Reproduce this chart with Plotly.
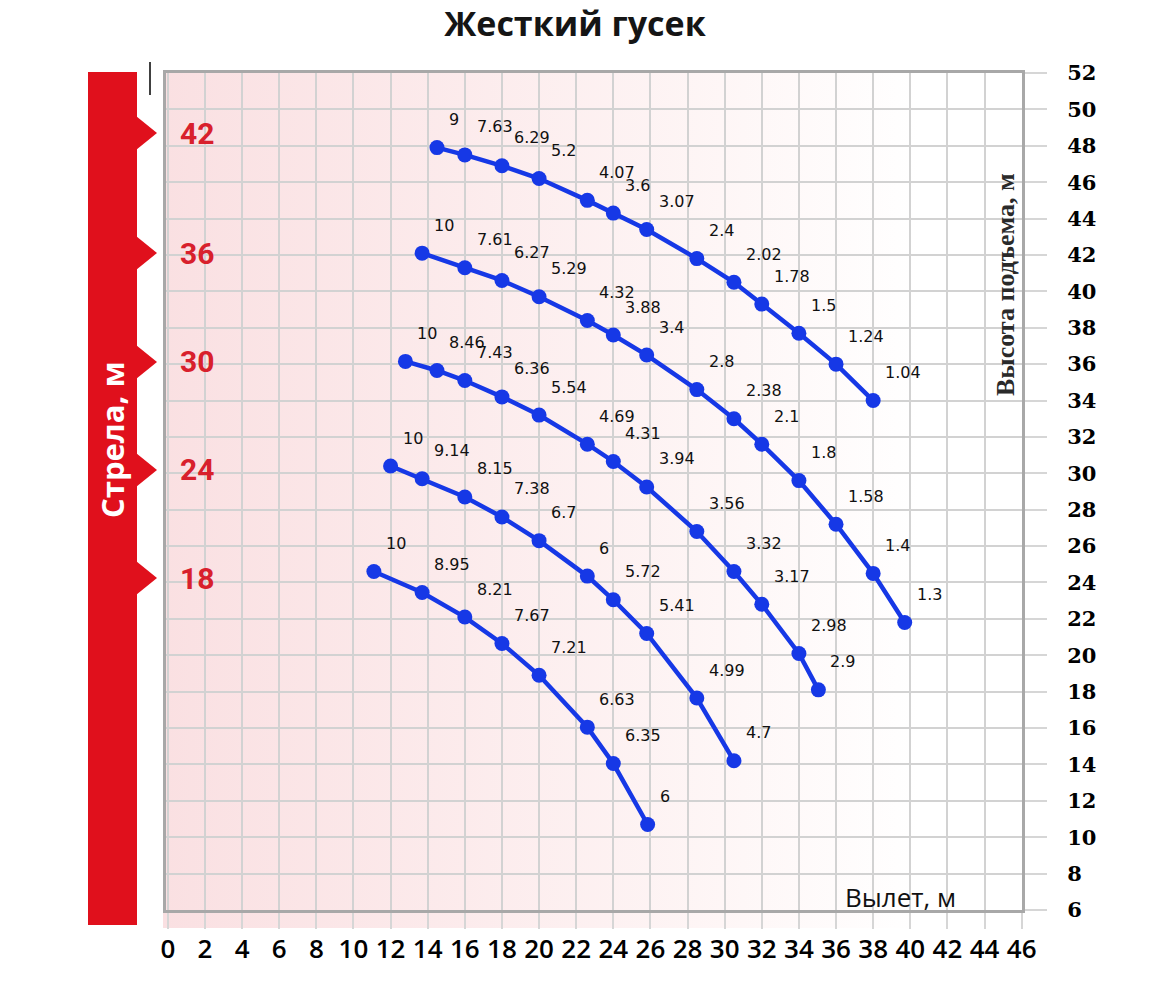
import base64
import plotly.graph_objects as go

# ---------------- data ----------------
TITLE = "Жесткий гусек"
BOOM_LENGTHS = [42, 36, 30, 24, 18]

x_42 = [14.5, 16, 18, 20, 22.6, 24, 25.8, 28.5, 30.5, 32, 34, 36, 38]
y_42 = [47.9, 47.5, 46.9, 46.2, 45.0, 44.3, 43.4, 41.8, 40.5, 39.3, 37.7, 36.0, 34.0]
q_42 = ["9", "7.63", "6.29", "5.2", "4.07", "3.6", "3.07", "2.4", "2.02", "1.78", "1.5", "1.24", "1.04"]

x_36 = [13.7, 16, 18, 20, 22.6, 24, 25.8, 28.5, 30.5, 32, 34, 36, 38, 39.7]
y_36 = [42.1, 41.3, 40.6, 39.7, 38.4, 37.6, 36.5, 34.6, 33.0, 31.6, 29.6, 27.2, 24.5, 21.8]
q_36 = ["10", "7.61", "6.27", "5.29", "4.32", "3.88", "3.4", "2.8", "2.38", "2.1", "1.8", "1.58", "1.4", "1.3"]

x_30 = [12.8, 14.5, 16, 18, 20, 22.6, 24, 25.8, 28.5, 30.5, 32, 34, 35.05]
y_30 = [36.15, 35.65, 35.1, 34.2, 33.2, 31.6, 30.65, 29.25, 26.8, 24.6, 22.8, 20.1, 18.1]
q_30 = ["10", "8.46", "7.43", "6.36", "5.54", "4.69", "4.31", "3.94", "3.56", "3.32", "3.17", "2.98", "2.9"]

x_24 = [12.0, 13.7, 16, 18, 20, 22.6, 24, 25.8, 28.5, 30.5]
y_24 = [30.4, 29.7, 28.7, 27.6, 26.3, 24.35, 23.05, 21.2, 17.65, 14.2]
q_24 = ["10", "9.14", "8.15", "7.38", "6.7", "6", "5.72", "5.41", "4.99", "4.7"]

x_18 = [11.1, 13.7, 16, 18, 20, 22.6, 24, 25.85]
y_18 = [24.6, 23.45, 22.1, 20.65, 18.9, 16.05, 14.05, 10.7]
q_18 = ["10", "8.95", "8.21", "7.67", "7.21", "6.63", "6.35", "6"]

x_ticks = list(range(0, 47, 2))
y_ticks = list(range(6, 53, 2))

X_TITLE = "Вылет, м"
Y_TITLE = "Высота подъема, м"
BAND_TITLE = "Стрела, м"

series = [(x_42, y_42, q_42), (x_36, y_36, q_36), (x_30, y_30, q_30),
          (x_24, y_24, q_24), (x_18, y_18, q_18)]

# ---------------- layout helpers ----------------
W, H = 1167, 983
L, R, T, B = 166, 1022, 73, 910


def px(x):
    return (x - L) / (R - L)


def py(y):
    return (B - y) / (B - T)


BLUE = "#1638e6"
RED = "#e0101c"

fig = go.Figure()
annotations = []
for xs, ys, qs in series:
    fig.add_trace(go.Scatter(
        x=xs, y=ys, mode="lines+markers",
        line=dict(color=BLUE, width=4.5),
        marker=dict(color=BLUE, size=15),
        hoverinfo="skip", showlegend=False))
    for xv, yv, q in zip(xs, ys, qs):
        annotations.append(dict(
            x=xv, y=yv, xref="x", yref="y", text=q, showarrow=False,
            xanchor="left", yanchor="middle", xshift=10, yshift=28,
            font=dict(family="DejaVu Sans", size=16, color="#111111")))

# background gradient as an svg image
svg = ('<svg xmlns="http://www.w3.org/2000/svg" width="860" height="860" '
       'preserveAspectRatio="none"><defs><linearGradient id="g" x1="0" y1="0" x2="1" y2="0">'
       '<stop offset="0" stop-color="#fae0e2"/><stop offset="0.35" stop-color="#fcebec"/>'
       '<stop offset="0.65" stop-color="#fef6f6"/><stop offset="0.88" stop-color="#ffffff"/>'
       '</linearGradient></defs><rect width="860" height="860" fill="url(#g)"/></svg>')
svg_uri = "data:image/svg+xml;base64," + base64.b64encode(svg.encode()).decode()

shapes = []
# red band
shapes.append(dict(type="rect", xref="paper", yref="paper",
                   x0=px(88), x1=px(137), y0=py(925), y1=py(72),
                   fillcolor=RED, line=dict(width=0)))
band_y = [133, 253, 362, 470, 578]
for yc, bl in zip(band_y, BOOM_LENGTHS):
    path = "M {:.5f},{:.5f} L {:.5f},{:.5f} L {:.5f},{:.5f} Z".format(
        px(136), py(yc - 17), px(157), py(yc), px(136), py(yc + 17))
    shapes.append(dict(type="path", xref="paper", yref="paper", path=path,
                       fillcolor=RED, line=dict(width=0)))
    annotations.append(dict(
        x=px(197), y=py(yc), xref="paper", yref="paper", text="<b>%d</b>" % bl,
        showarrow=False, xanchor="center", yanchor="middle",
        font=dict(family="Roboto", size=30, color="#d8202c")))
# small black mark
shapes.append(dict(type="line", xref="paper", yref="paper",
                   x0=px(150), x1=px(150), y0=py(95), y1=py(62),
                   line=dict(color="#000000", width=1.5)))

annotations.append(dict(
    x=px(112), y=py(440), xref="paper", yref="paper", text="<b>%s</b>" % BAND_TITLE,
    showarrow=False, textangle=-90, xanchor="center", yanchor="middle",
    font=dict(family="Open Sans", size=31, color="#ffffff")))
annotations.append(dict(
    x=px(1005), y=py(285), xref="paper", yref="paper", text="<b>%s</b>" % Y_TITLE,
    showarrow=False, textangle=-90, xanchor="center", yanchor="middle",
    font=dict(family="Liberation Serif", size=26, color="#2a2a2a")))
annotations.append(dict(
    x=px(900), y=py(897), xref="paper", yref="paper", text=X_TITLE,
    showarrow=False, xanchor="center", yanchor="middle",
    font=dict(family="Open Sans", size=26, color="#111111")))

fig.update_layout(
    width=W, height=H,
    margin=dict(l=L, r=W - R, t=T, b=H - B),
    paper_bgcolor="#ffffff", plot_bgcolor="rgba(0,0,0,0)",
    title=dict(text="<b>%s</b>" % TITLE, x=575 / W, xanchor="center",
               y=1 - 24 / H, yanchor="middle",
               font=dict(family="Open Sans", size=34, color="#151515")),
    xaxis=dict(range=[-0.1, 46.02], tickvals=x_ticks, ticktext=[str(v) for v in x_ticks],
               showgrid=True, gridcolor="#d2d2d2", gridwidth=2,
               showline=True, mirror=True, linecolor="#a8a8a8", linewidth=3,
               ticks="outside", ticklen=16, tickcolor="#d6d6d6", tickwidth=2,
               zeroline=False, ticklabelstandoff=-2,
               tickfont=dict(family="Open Sans", size=26, color="#000000", weight=600)),
    yaxis=dict(range=[6, 52], tickvals=y_ticks, side="right",
               showgrid=True, gridcolor="#d2d2d2", gridwidth=2,
               showline=True, mirror=True, linecolor="#a8a8a8", linewidth=3,
               ticks="outside", ticklen=22, tickcolor="#d6d6d6", tickwidth=2,
               zeroline=False, ticklabelstandoff=16,
               tickfont=dict(family="DejaVu Serif", size=21, color="#000000", weight="bold")),
    images=[dict(source=svg_uri, xref="paper", yref="paper",
                 x=px(163), y=py(72), sizex=px(1022) - px(163), sizey=py(72) - py(928),
                 sizing="stretch", xanchor="left", yanchor="top", layer="below")],
    shapes=shapes,
    annotations=annotations,
)

fig.write_html("out.html")
